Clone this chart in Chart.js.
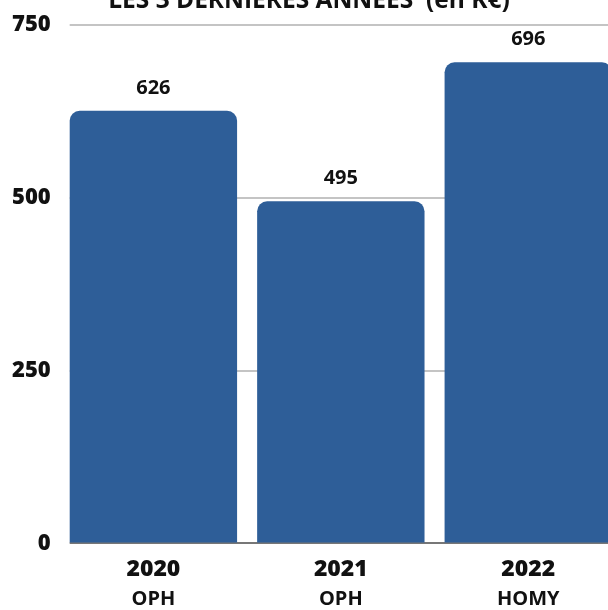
<!DOCTYPE html>
<html lang="fr">
<head>
<meta charset="utf-8">
<title>Les 3 dernières années</title>
<script src="https://cdn.jsdelivr.net/npm/chart.js@4"></script>
<style>
  html, body { margin: 0; padding: 0; background: #fff; overflow: hidden; }
  #wrap { width: 608px; height: 610px; overflow: hidden; }
</style>
</head>
<body>
<div id="wrap"><canvas id="chiffresChart" width="622" height="610"></canvas></div>
<script>
// données
const annees = ['2020', '2021', '2022'];
const bailleurs = ['OPH', 'OPH', 'HOMY'];
const montants = [626, 495, 696];
const graduations = [0, 250, 500, 750];
const titre = 'LES 3 DERNIÈRES ANNÉES  (en K€)';

const BLEU = '#2e5e98';
const POLICE = '"Open Sans", "Liberation Sans", sans-serif';

// titre (partiellement coupé en haut)
const titrePlugin = {
    id: 'titre',
    afterDraw(chart) {
        const ctx = chart.ctx;
        ctx.save();
        ctx.font = `bold 24.5px ${POLICE}`;
        ctx.fillStyle = '#111';
        ctx.textAlign = 'center';
        ctx.textBaseline = 'alphabetic';
        ctx.fillText(titre, 309, 8);
        ctx.restore();
    }
};

// la grille commence un peu après le bord gauche
const margeGrille = {
    id: 'margeGrille',
    beforeDatasetsDraw(chart) {
        const a = chart.chartArea;
        const ctx = chart.ctx;
        ctx.save();
        ctx.fillStyle = '#fff';
        ctx.fillRect(a.left - 1, a.top - 3, 11, a.bottom - a.top + 6);
        ctx.restore();
    }
};

// valeurs au-dessus des barres
const valeursPlugin = {
    id: 'valeurs',
    afterDatasetsDraw(chart) {
        const ctx = chart.ctx;
        const meta = chart.getDatasetMeta(0);
        ctx.save();
        ctx.font = `bold 20px ${POLICE}`;
        ctx.fillStyle = '#111';
        ctx.textAlign = 'center';
        ctx.textBaseline = 'alphabetic';
        meta.data.forEach((bar, i) => {
            ctx.fillText(String(montants[i]), bar.x, bar.y - 17);
        });
        ctx.restore();
    }
};

// nom du bailleur sous l'année
const bailleursPlugin = {
    id: 'bailleurs',
    afterDraw(chart) {
        const ctx = chart.ctx;
        const x = chart.scales.x;
        ctx.save();
        ctx.font = `bold 20px ${POLICE}`;
        ctx.fillStyle = '#111';
        ctx.textAlign = 'center';
        ctx.textBaseline = 'alphabetic';
        bailleurs.forEach((nom, i) => {
            ctx.fillText(nom, x.getPixelForTick(i), 605);
        });
        ctx.restore();
    }
};

const ctx = document.getElementById('chiffresChart').getContext('2d');
new Chart(ctx, {
    type: 'bar',
    data: {
        labels: annees,
        datasets: [{
            data: montants,
            backgroundColor: BLEU,
            borderRadius: { topLeft: 10, topRight: 10, bottomLeft: 0, bottomRight: 0 },
            borderSkipped: 'start',
            categoryPercentage: 1,
            barPercentage: 0.893
        }]
    },
    options: {
        responsive: false,
        animation: false,
        layout: { padding: { top: 25, bottom: 15, left: 3, right: 0 } },
        plugins: {
            legend: { display: false },
            tooltip: { enabled: false }
        },
        scales: {
            x: {
                grid: { display: false, drawTicks: false },
                border: { display: true, color: '#777', width: 2 },
                ticks: {
                    padding: 12,
                    color: '#111',
                    font: { family: POLICE, size: 23, weight: '800' }
                }
            },
            y: {
                min: 0,
                max: 750,
                afterBuildTicks(scale) {
                    scale.ticks = graduations.map(v => ({ value: v }));
                },
                grid: { color: '#c4c4c4', lineWidth: 2, drawTicks: false },
                border: { display: false },
                ticks: {
                    padding: 9,
                    color: '#111',
                    font: { family: POLICE, size: 22, weight: '800' }
                }
            }
        }
    },
    plugins: [titrePlugin, margeGrille, valeursPlugin, bailleursPlugin]
});
</script>
</body>
</html>
